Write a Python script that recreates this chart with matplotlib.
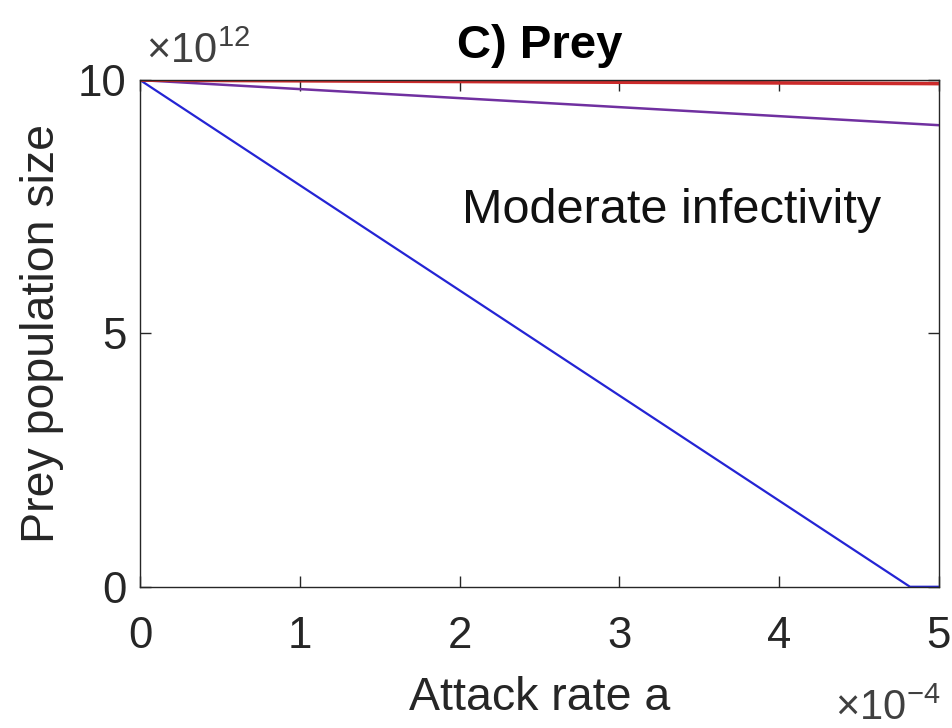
import matplotlib.pyplot as plt
import numpy as np

plt.rcParams['font.family'] = ['Liberation Sans', 'DejaVu Sans']
plt.rcParams['mathtext.fontset'] = 'custom'
plt.rcParams['mathtext.rm'] = 'Liberation Sans'

# attack rate in units of 1e-4, prey population in units of 1e12
attack_blue = [0, 4.82, 5]
prey_blue = [10, 0, 0]
attack_purple = [0, 5]
prey_purple = [10, 9.11]
attack_red = [0, 5]
prey_red = [10, 9.93]

xticks = [0, 1, 2, 3, 4, 5]
yticks = [0, 5, 10]

axcol = '#262626'

fig = plt.figure(figsize=(9.53, 7.28), dpi=100)
ax = fig.add_axes([0.147, 0.194, 0.838, 0.696])

ax.plot(attack_blue, prey_blue, color='#2424d4', lw=1.6)
ax.plot(attack_purple, prey_purple, color='#7030a0', lw=1.8)
ax.plot(attack_red, prey_red, color='#cc2a2a', lw=2.6)

ax.set_xlim(0, 5)
ax.set_ylim(0, 10)
ax.set_xticks(xticks)
ax.set_yticks(yticks)
ax.tick_params(direction='in', length=8, width=1, colors=axcol,
               labelsize=31.5, top=True, right=True)
ax.tick_params(axis='x', pad=21)
ax.tick_params(axis='y', pad=10)
for s in ax.spines.values():
    s.set_color(axcol)
    s.set_linewidth(1)

ax.set_xlabel('Attack rate a', fontsize=33.5, color=axcol, labelpad=14)
ax.set_ylabel('Prey population size', fontsize=33.5, color=axcol, labelpad=10)
ax.set_title('C) Prey', fontsize=34, fontweight='bold', pad=16)

# exponent labels
fig.text(146 / 953, 1 - 63 / 728, '×10$^{12}$', fontsize=30,
         color='#404040', ha='left', va='baseline')
fig.text(940 / 953, 1 - 720 / 728, '×10$^{-4}$', fontsize=30,
         color='#404040', ha='right', va='baseline')

ax.text(3.33, 7.18, 'Moderate infectivity', fontsize=35, color='#111111',
        ha='center', va='baseline')

fig.savefig('out.png', dpi=100)
